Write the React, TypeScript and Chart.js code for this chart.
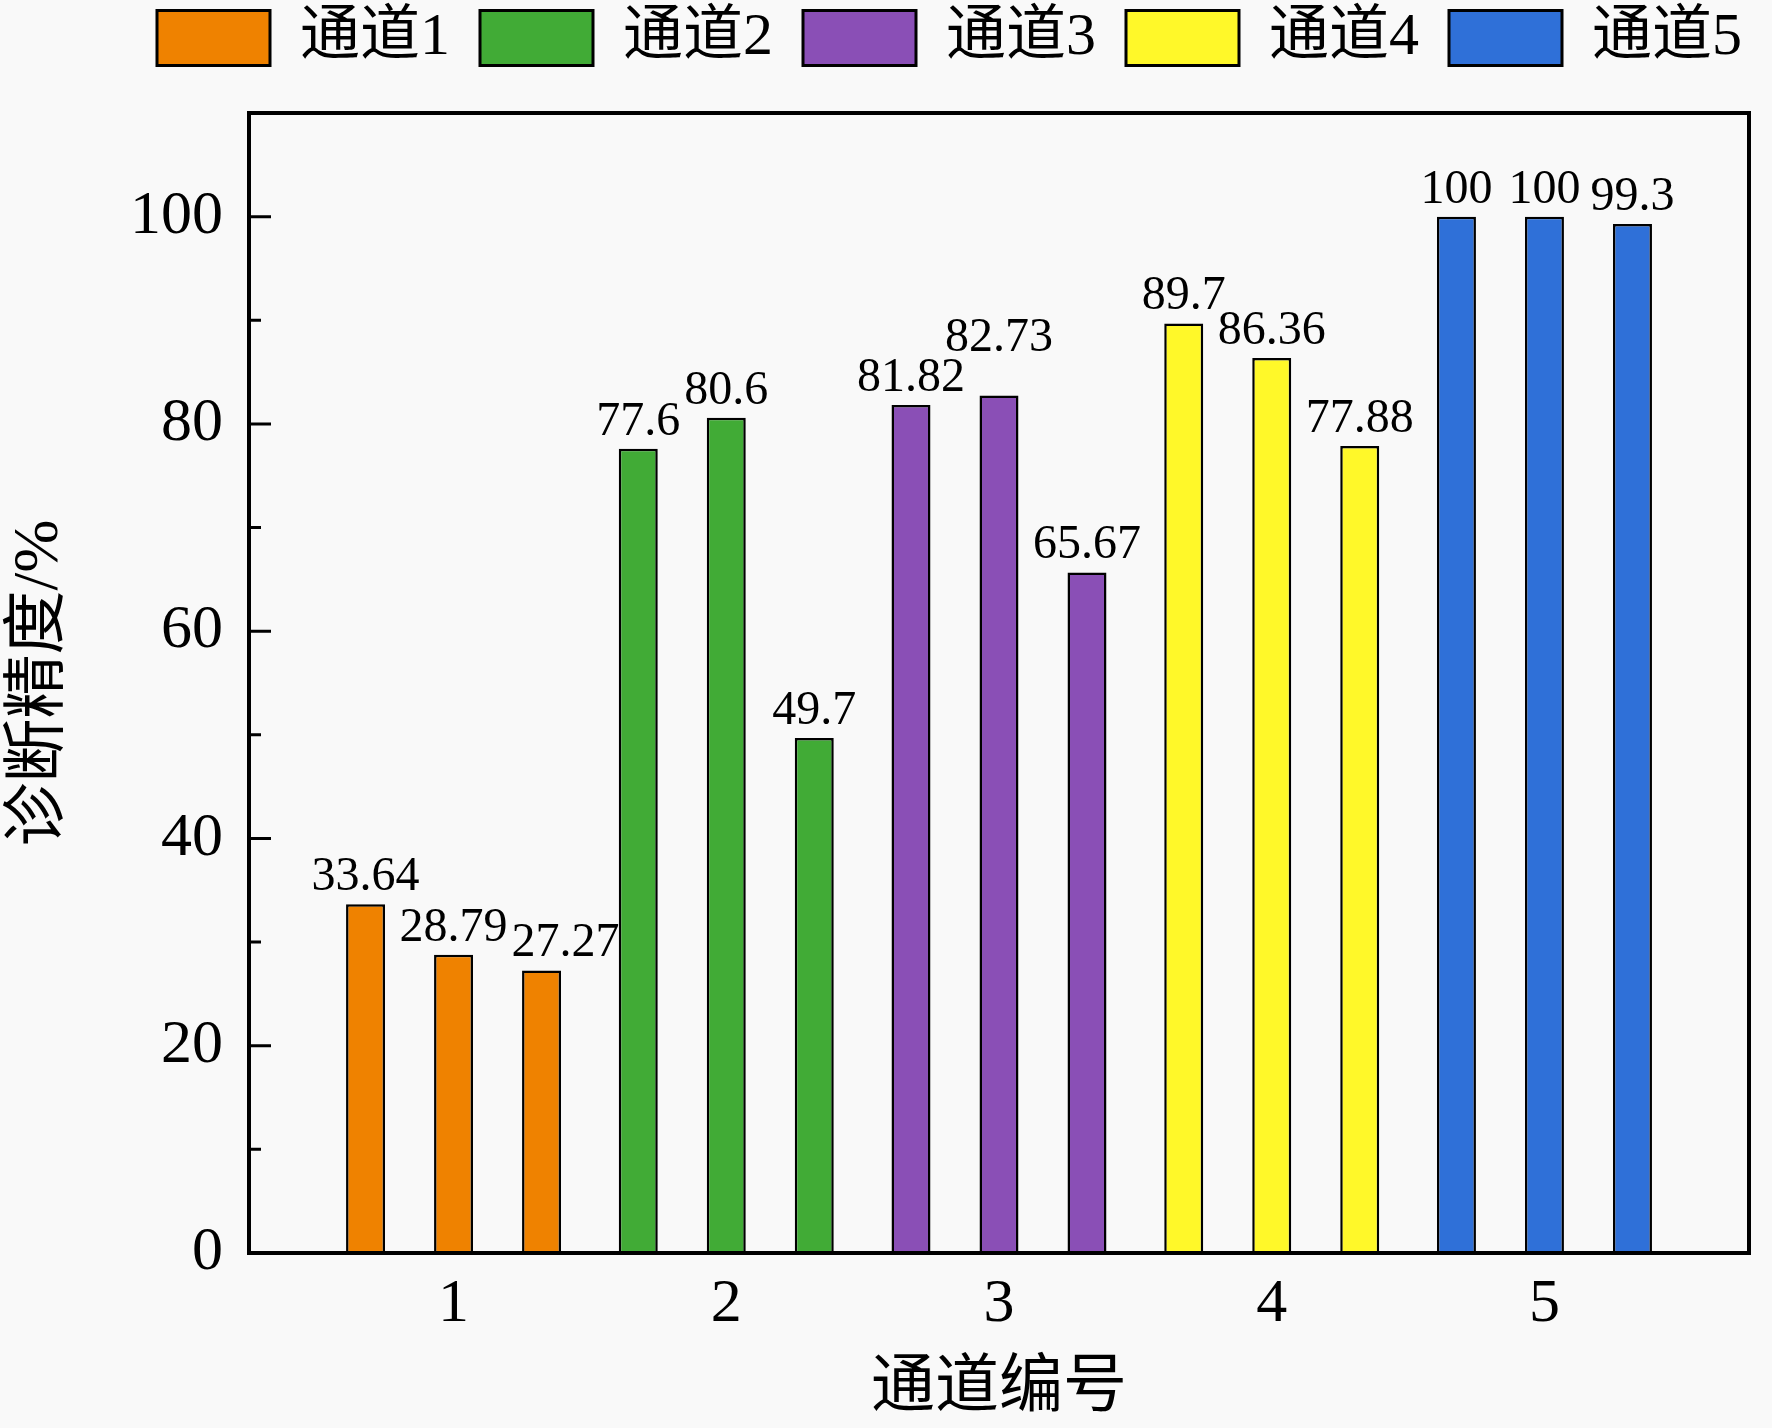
import { useEffect, useRef } from 'react';
import { Chart, registerables } from 'chart.js';

Chart.register(...registerables);

// channel numbers on the x axis
const channels = [1, 2, 3, 4, 5];
const channelNames = ['通道1', '通道2', '通道3', '通道4', '通道5'];
const channelColors = ['#EF8200', '#41AB36', '#8A4FB6', '#FFF829', '#2F70D8'];

// three bars per channel, left to right
const firstBar = [33.64, 77.6, 81.82, 89.7, 100];
const secondBar = [28.79, 80.6, 82.73, 86.36, 100];
const thirdBar = [27.27, 49.7, 65.67, 77.88, 99.3];

const yMajorTicks = [0, 20, 40, 60, 80, 100];
const yMinorTicks = [10, 30, 50, 70, 90];

const FONT = "'Liberation Serif', 'Times New Roman', 'Noto Sans CJK SC', serif";

const framePlugin = {
  id: 'frame',
  beforeDatasetsDraw(chart: Chart) {
    const { ctx, chartArea } = chart;
    const x = chart.scales.x;
    const y = chart.scales.y;
    ctx.save();
    ctx.strokeStyle = '#000';
    ctx.lineWidth = 3;
    ctx.beginPath();
    yMajorTicks.forEach((v) => {
      const py = y.getPixelForValue(v);
      ctx.moveTo(chartArea.left, py);
      ctx.lineTo(chartArea.left + 22, py);
    });
    yMinorTicks.forEach((v) => {
      const py = y.getPixelForValue(v);
      ctx.moveTo(chartArea.left, py);
      ctx.lineTo(chartArea.left + 12, py);
    });
    channels.forEach((v) => {
      const px = x.getPixelForValue(v);
      ctx.moveTo(px, chartArea.bottom);
      ctx.lineTo(px, chartArea.bottom - 20);
    });
    ctx.stroke();
    ctx.restore();
  },
  afterDatasetsDraw(chart: Chart) {
    const { ctx, chartArea } = chart;
    ctx.save();
    ctx.strokeStyle = '#000';
    ctx.lineWidth = 4;
    ctx.strokeRect(chartArea.left, chartArea.top, chartArea.right - chartArea.left, chartArea.bottom - chartArea.top);

    // value labels, nudged so neighbours in a group don't overlap
    ctx.fillStyle = '#000';
    ctx.font = `48px ${FONT}`;
    ctx.textAlign = 'center';
    ctx.textBaseline = 'alphabetic';
    const textH = 34;
    const metas = chart.data.datasets.map((_, i) => chart.getDatasetMeta(i));
    channels.forEach((_, j) => {
      let prev: { l: number; r: number; t: number; b: number; v: number } | null = null;
      metas.forEach((meta, i) => {
        const bar = meta.data[j];
        const v = chart.data.datasets[i].data[j] as number;
        const text = String(v);
        const w = ctx.measureText(text).width;
        let cx = bar.x;
        let base = bar.y - 14;
        if (prev) {
          const overlapX = cx - w / 2 < prev.r && cx + w / 2 > prev.l;
          const overlapY = base - textH < prev.b && base > prev.t;
          if (overlapX && overlapY) {
            if (v > prev.v) base = prev.t - 6;
            else cx = prev.r + w / 2 + 4;
          }
        }
        ctx.fillText(text, cx, base);
        prev = { l: cx - w / 2, r: cx + w / 2, t: base - textH, b: base, v };
      });
    });
    ctx.restore();
  },
};

function AccuracyChart() {
  const ref = useRef<HTMLCanvasElement>(null);
  const chartRef = useRef<Chart | null>(null);

  useEffect(() => {
    if (!ref.current) return;
    document.body.style.margin = '0';

    const barStyle = {
      backgroundColor: channelColors,
      borderColor: '#000',
      borderWidth: 2.5,
      categoryPercentage: 0.968,
      barPercentage: 0.443,
      xAxisID: 'x',
      yAxisID: 'y',
    };

    chartRef.current?.destroy();
    chartRef.current = new Chart(ref.current, {
      type: 'bar',
      data: {
        labels: channels,
        datasets: [
          { label: 'a', data: firstBar, ...barStyle },
          { label: 'b', data: secondBar, ...barStyle },
          { label: 'c', data: thirdBar, ...barStyle },
        ],
      },
      options: {
        responsive: true,
        maintainAspectRatio: false,
        animation: false,
        events: [],
        layout: { padding: { top: -22, left: 0, right: 0, bottom: 0 } },
        plugins: {
          tooltip: { enabled: false },
          legend: {
            position: 'top',
            align: 'end',
            labels: {
              boxWidth: 113,
              boxHeight: 55,
              padding: 30,
              color: '#000',
              font: { family: FONT, size: 60 },
              generateLabels: () =>
                channelNames.map((name, i) => ({
                  text: name,
                  fillStyle: channelColors[i],
                  strokeStyle: '#000',
                  lineWidth: 3,
                  hidden: false,
                })),
            },
          },
        },
        scales: {
          x: {
            type: 'linear',
            position: 'bottom',
            min: 0.25,
            max: 5.75,
            offset: false,
            afterBuildTicks: (scale) => {
              scale.ticks = channels.map((v) => ({ value: v }));
            },
            afterFit: (scale) => {
              scale.height = 175;
            },
            grid: { display: false, drawTicks: false, offset: false },
            border: { display: false },
            ticks: { color: '#000', padding: 15, maxRotation: 0, font: { family: FONT, size: 62 } },
            title: {
              display: true,
              text: '通道编号',
              color: '#000',
              padding: { top: 0, bottom: 0 },
              font: { family: FONT, size: 64, lineHeight: 1.2 },
            },
          },
          x2: {
            type: 'linear',
            position: 'top',
            display: true,
            grid: { display: false, drawTicks: false },
            border: { display: false },
            ticks: { display: false },
            afterFit: (scale) => {
              scale.height = 35;
            },
          },
          y: {
            type: 'linear',
            position: 'left',
            min: 0,
            max: 110,
            afterBuildTicks: (scale) => {
              scale.ticks = yMajorTicks.map((v) => ({ value: v }));
            },
            afterFit: (scale) => {
              scale.width = 249;
            },
            grid: { display: false, drawTicks: false },
            border: { display: false },
            ticks: { color: '#000', padding: 26, font: { family: FONT, size: 62 } },
            title: {
              display: true,
              text: '诊断精度/%',
              color: '#000',
              padding: { top: 2, bottom: 0 },
              font: { family: FONT, size: 64, lineHeight: 1.2 },
            },
          },
          y2: {
            type: 'linear',
            position: 'right',
            display: true,
            grid: { display: false, drawTicks: false },
            border: { display: false },
            ticks: { display: false },
            afterFit: (scale) => {
              scale.width = 23;
            },
          },
        },
      },
      plugins: [framePlugin],
    });
    return () => { chartRef.current?.destroy(); };
  }, []);

  return (
    <div style={{ position: 'fixed', left: 0, top: 0, width: 1772, height: 1428, background: '#f9f9f9' }}>
      <canvas ref={ref} />
    </div>
  );
}

export default function App() {
  return <AccuracyChart />;
}
